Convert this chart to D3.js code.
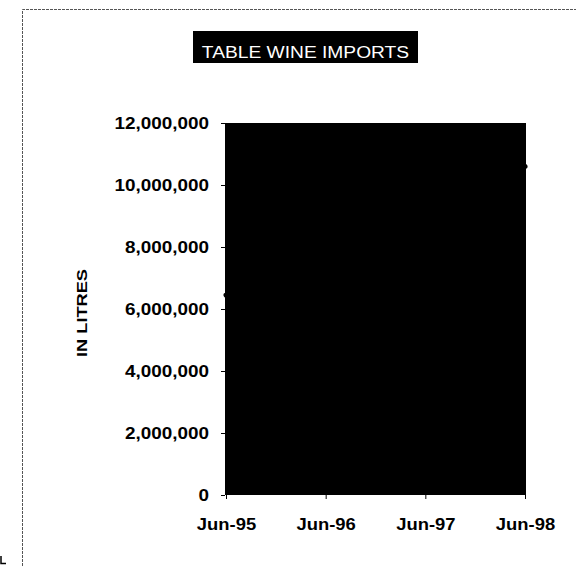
<!DOCTYPE html>
<html>
<head>
<meta charset="utf-8">
<script src="https://cdn.jsdelivr.net/npm/d3@7"></script>
<style>
  body { margin: 0; background: #fff; }
  svg { display: block; font-family: Arial, "Liberation Sans", sans-serif; }
</style>
</head>
<body>
<div id="chart"></div>
<script>
// data (middle points are hidden in the black area, estimated)
var months = ['Jun-95', 'Jun-96', 'Jun-97', 'Jun-98'];
var litres = [6450000, 7600000, 9100000, 10600000];
var yTicks = [0, 2000000, 4000000, 6000000, 8000000, 10000000, 12000000];

var W = 576, H = 566;
var svg = d3.select('#chart').append('svg')
  .attr('width', W).attr('height', H);

// scanned frame
svg.append('path')
  .attr('d', 'M22.5,' + H + 'V9.5H' + W)
  .style('fill', 'none').style('stroke', '#555').style('stroke-width', 1)
  .style('stroke-dasharray', '3,1');
// little corner mark bottom left of the scan
svg.append('path')
  .attr('d', 'M1,556V563.5H6')
  .style('fill', 'none').style('stroke', '#000').style('stroke-width', 1.5);

var x = d3.scalePoint().domain(months).range([226, 525]);
var y = d3.scaleLinear().domain([0, 12000000]).range([495, 123]);

// wide fonts in the scan -> stretch text a bit
function stretch(sel, k) {
  sel.each(function () {
    var len = this.getComputedTextLength();
    d3.select(this).attr('textLength', len * k).attr('lengthAdjust', 'spacingAndGlyphs');
  });
}

// plot area (black)
svg.append('rect')
  .attr('x', x.range()[0] - 1).attr('y', y(12000000))
  .attr('width', x.range()[1] - x.range()[0] + 2)
  .attr('height', y(0) - y(12000000))
  .style('fill', '#000');

// the series line, same colour as the plot area
svg.append('path')
  .datum(litres)
  .attr('d', d3.line().x((d, i) => x(months[i])).y(d => y(d)))
  .style('fill', 'none').style('stroke', '#000').style('stroke-width', 5)
  .style('stroke-linecap', 'round');

// y axis
var gy = svg.append('g').attr('transform', 'translate(225,0)')
  .call(d3.axisLeft(y).tickValues(yTicks).tickSize(4).tickPadding(12)
    .tickFormat(d3.format(',')));
gy.select('.domain').remove();
gy.selectAll('line').style('stroke', '#000');
gy.selectAll('text').style('font-size', '16px').style('font-weight', 'bold').style('fill', '#000');
stretch(gy.selectAll('text'), 1.18);

// x axis
var gx = svg.append('g').attr('transform', 'translate(0,495)')
  .call(d3.axisBottom(x).tickSize(4).tickPadding(20));
gx.select('.domain').remove();
gx.selectAll('line').style('stroke', '#000');
gx.selectAll('text').style('font-size', '16px').style('font-weight', 'bold').style('fill', '#000');
stretch(gx.selectAll('text'), 1.15);

// axis title
var yt = svg.append('text')
  .attr('transform', 'translate(87,313) rotate(-90)')
  .attr('text-anchor', 'middle')
  .style('font-size', '14px').style('font-weight', 'bold')
  .text('IN LITRES');
stretch(yt, 1.3);

// title box
svg.append('rect')
  .attr('x', 193).attr('y', 31).attr('width', 225).attr('height', 32)
  .style('fill', '#000');
var tt = svg.append('text')
  .attr('x', 305.5).attr('y', 57.5).attr('text-anchor', 'middle')
  .style('font-size', '16px').style('fill', '#fff')
  .text('TABLE WINE IMPORTS');
stretch(tt, 1.2);
</script>
</body>
</html>
